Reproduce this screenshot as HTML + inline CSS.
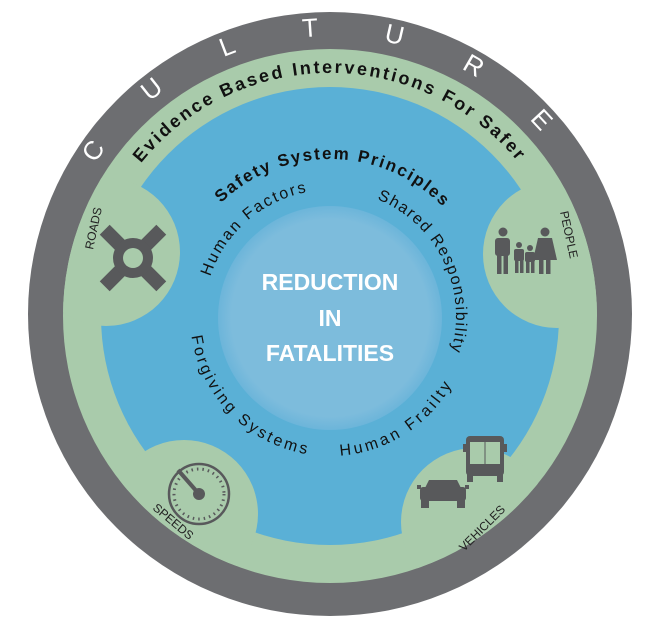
<!DOCTYPE html>
<html><head><meta charset="utf-8"><style>
html,body{margin:0;padding:0;background:#fff;}
svg{display:block;font-family:"Liberation Sans",sans-serif;}
</style></head><body>
<svg width="645" height="625" viewBox="0 0 645 625" xmlns="http://www.w3.org/2000/svg">
<defs>
<radialGradient id="cg" cx="50%" cy="50%" r="50%">
<stop offset="0.88" stop-color="#7dbcdc"/><stop offset="1" stop-color="#6cb5da"/>
</radialGradient>
<clipPath id="ring"><circle cx="330" cy="316" r="267"/></clipPath>
<path id="cw280" d="M50,316 A280,280 0 1 1 610,316 A280,280 0 1 1 50,316"/>
<path id="cw243" d="M87,316 A243,243 0 1 1 573,316 A243,243 0 1 1 87,316"/>
<path id="cw157" d="M173,316 A157,157 0 1 1 487,316 A157,157 0 1 1 173,316"/>
<path id="cw126" d="M204,316 A126,126 0 1 1 456,316 A126,126 0 1 1 204,316"/>
<path id="ccw140" d="M190,316 A140,140 0 0 0 470,316 A140,140 0 0 0 190,316"/>
</defs>
<circle cx="330" cy="314" r="302" fill="#6d6e71"/>
<circle cx="330" cy="316" r="267" fill="#a9cbab"/>
<circle cx="330" cy="316" r="229" fill="#5ab0d6"/>
<g clip-path="url(#ring)" fill="#a9cbab">
<circle cx="106" cy="252" r="74"/>
<circle cx="557" cy="254" r="74"/>
<circle cx="184" cy="514" r="74"/>
<circle cx="475" cy="522" r="74"/>
</g>
<circle cx="330" cy="318" r="112" fill="url(#cg)"/>

<g fill="#fff" font-size="26" text-anchor="middle">
<text><textPath href="#cw280" startOffset="9.7%">C</textPath></text>
<text><textPath href="#cw280" startOffset="14.4%">U</textPath></text>
<text><textPath href="#cw280" startOffset="19.2%">L</textPath></text>
<text><textPath href="#cw280" startOffset="23.9%">T</textPath></text>
<text><textPath href="#cw280" startOffset="28.6%">U</textPath></text>
<text><textPath href="#cw280" startOffset="33.3%">R</textPath></text>
<text><textPath href="#cw280" startOffset="38.1%">E</textPath></text>
</g>
<text font-size="18" font-weight="bold" fill="#111"><textPath href="#cw243" startOffset="165" textLength="430" lengthAdjust="spacing">Evidence Based Interventions For Safer</textPath></text>
<text font-size="17" font-weight="bold" fill="#111"><textPath href="#cw157" startOffset="126" textLength="246" lengthAdjust="spacing">Safety System Principles</textPath></text>
<g font-size="16" fill="#111">
<text><textPath href="#cw126" startOffset="40" textLength="134" lengthAdjust="spacing">Human Factors</textPath></text>
<text><textPath href="#cw126" startOffset="246" textLength="185" lengthAdjust="spacing">Shared  Responsibility</textPath></text>
<text><textPath href="#ccw140" startOffset="20" textLength="176" lengthAdjust="spacing">Forgiving    Systems</textPath></text>
<text><textPath href="#ccw140" startOffset="230" textLength="137" lengthAdjust="spacing">Human Frailty</textPath></text>
</g>
<g fill="#fff" font-weight="bold" font-size="23" text-anchor="middle">
<text x="330" y="290">REDUCTION</text>
<text x="330" y="326">IN</text>
<text x="330" y="361">FATALITIES</text>
</g>
<g font-size="12" fill="#222">
<text transform="translate(93,250) rotate(-78)">ROADS</text>
<text transform="translate(560,212) rotate(78)">PEOPLE</text>
<text transform="translate(152,509) rotate(40)">SPEEDS</text>
<text transform="translate(464,552) rotate(-45)">VEHICLES</text>
</g>
<!-- roads icon -->
<g fill="#58595b">
<rect x="93" y="251" width="80" height="14" transform="rotate(45 133 258)"/>
<rect x="93" y="251" width="80" height="14" transform="rotate(-45 133 258)"/>
<circle cx="133" cy="258" r="20"/>
<circle cx="133" cy="258" r="10" fill="#a9cbab"/>
</g>
<!-- people icon -->
<g fill="#58595b">
<circle cx="503" cy="232" r="4.5"/><rect x="495" y="238" width="15" height="18" rx="3"/><rect x="497" y="254" width="4.5" height="20"/><rect x="503.5" y="254" width="4.5" height="20"/>
<circle cx="545" cy="232" r="4.5"/><path d="M538,238 h14 l5,22 h-24z"/><rect x="539" y="258" width="4.5" height="16"/><rect x="546" y="258" width="4.5" height="16"/>
<circle cx="519" cy="245" r="3"/><rect x="514" y="249" width="10" height="12" rx="2"/><rect x="515" y="259" width="3.5" height="14"/><rect x="520" y="259" width="3.5" height="14"/>
<circle cx="530" cy="248" r="3"/><rect x="525" y="252" width="10" height="10" rx="2"/><rect x="526" y="260" width="3.5" height="13"/><rect x="531" y="260" width="3.5" height="13"/>
</g>
<!-- speedometer -->
<g>
<circle cx="199" cy="494" r="30" fill="none" stroke="#58595b" stroke-width="2.5"/>
<circle cx="199" cy="494" r="25" fill="none" stroke="#58595b" stroke-width="3" stroke-dasharray="1.5 4"/>
<line x1="199" y1="494" x2="178" y2="470" stroke="#58595b" stroke-width="4"/>
<circle cx="199" cy="494" r="6" fill="#58595b"/>
</g>
<!-- bus -->
<g fill="#58595b">
<rect x="466" y="436" width="38" height="40" rx="4"/>
<rect x="470" y="442" width="30" height="22" fill="#a9cbab"/>
<line x1="485" y1="442" x2="485" y2="464" stroke="#58595b" stroke-width="1"/>
<rect x="463" y="444" width="3" height="8"/><rect x="504" y="444" width="3" height="8"/>
<rect x="467" y="474" width="6" height="8"/><rect x="497" y="474" width="6" height="8"/>
</g>
<!-- car -->
<g fill="#58595b">
<path d="M425,488 l4,-8 h28 l4,8z"/>
<rect x="420" y="487" width="46" height="14" rx="3"/>
<rect x="421" y="499" width="8" height="9"/><rect x="457" y="499" width="8" height="9"/>
<rect x="417" y="485" width="4" height="4"/><rect x="465" y="485" width="4" height="4"/>
</g>
</svg>
</body></html>
